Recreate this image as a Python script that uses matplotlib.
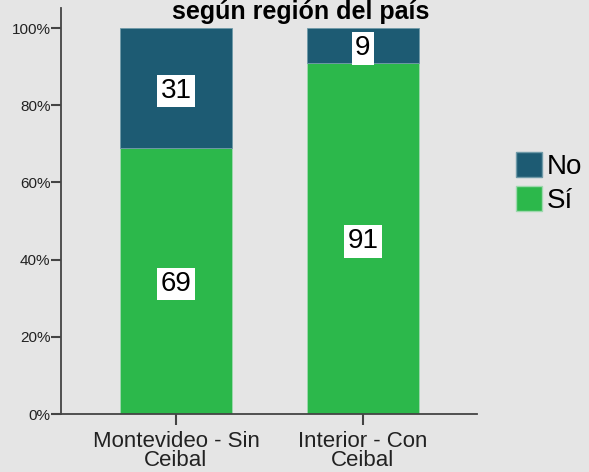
import numpy as np
import matplotlib.pyplot as plt
from matplotlib.patches import Patch

plt.rcParams['font.family'] = ['Liberation Sans', 'DejaVu Sans']

categories = ['Montevideo - Sin\nCeibal', 'Interior - Con\nCeibal']
si_vals = [69, 91]
no_vals = [31, 9]
title = 'según región del país'

c_no = '#1d5b73'
c_si = '#2cb84b'
bg = '#e5e5e5'

fig = plt.figure(figsize=(5.89, 4.72), dpi=100, facecolor=bg)
ax = fig.add_axes([61/589, 1-414/472, 416/589, 406/472], facecolor=bg)

x = np.arange(len(categories))
ax.bar(x, si_vals, width=0.6, color=c_si, edgecolor='#9fd8ae', linewidth=0.6)
ax.bar(x, no_vals, width=0.6, bottom=si_vals, color=c_no, edgecolor='#6f9aa8', linewidth=0.6)

box = dict(facecolor='white', edgecolor='none', pad=2.5)
for i in range(len(categories)):
    ax.text(x[i], si_vals[i] / 2, str(si_vals[i]), ha='center', va='center_baseline',
            fontsize=20, bbox=box)
    ax.text(x[i], si_vals[i] + no_vals[i] / 2, str(no_vals[i]), ha='center',
            va='center_baseline', fontsize=20, bbox=box)

ax.set_xlim(-0.615, 1.61)
ax.set_ylim(0, 105.2)
ax.set_yticks([0, 20, 40, 60, 80, 100])
ax.set_yticklabels(['0%', '20%', '40%', '60%', '80%', '100%'], fontsize=11, color='#222222')
ax.set_xticks(x)
ax.set_xticklabels(categories, fontsize=16, color='#222222', linespacing=0.92)
ax.tick_params(axis='y', length=7, width=1.5, color='#444444', pad=0.5)
ax.tick_params(axis='x', length=8, width=1.5, color='#444444', pad=4)
for s in ['top', 'right']:
    ax.spines[s].set_visible(False)
for s in ['left', 'bottom']:
    ax.spines[s].set_color('#444444')
    ax.spines[s].set_linewidth(1.3)

fig.text(301/589, 1.0, title, ha='center', va='top', fontsize=18,
         fontweight='bold')

handles = [Patch(facecolor=c_no, edgecolor='#6f9aa8', label='No'),
           Patch(facecolor=c_si, edgecolor='#9fd8ae', label='Sí')]
fig.legend(handles=handles, loc='center left', bbox_to_anchor=(516/589, 1 - 183/472),
           frameon=False, fontsize=20, handlelength=0.95, handleheight=1.0,
           handletextpad=0.15, labelspacing=0.2, borderpad=0, borderaxespad=0)

fig.savefig('out.png', dpi=100, facecolor=bg)
